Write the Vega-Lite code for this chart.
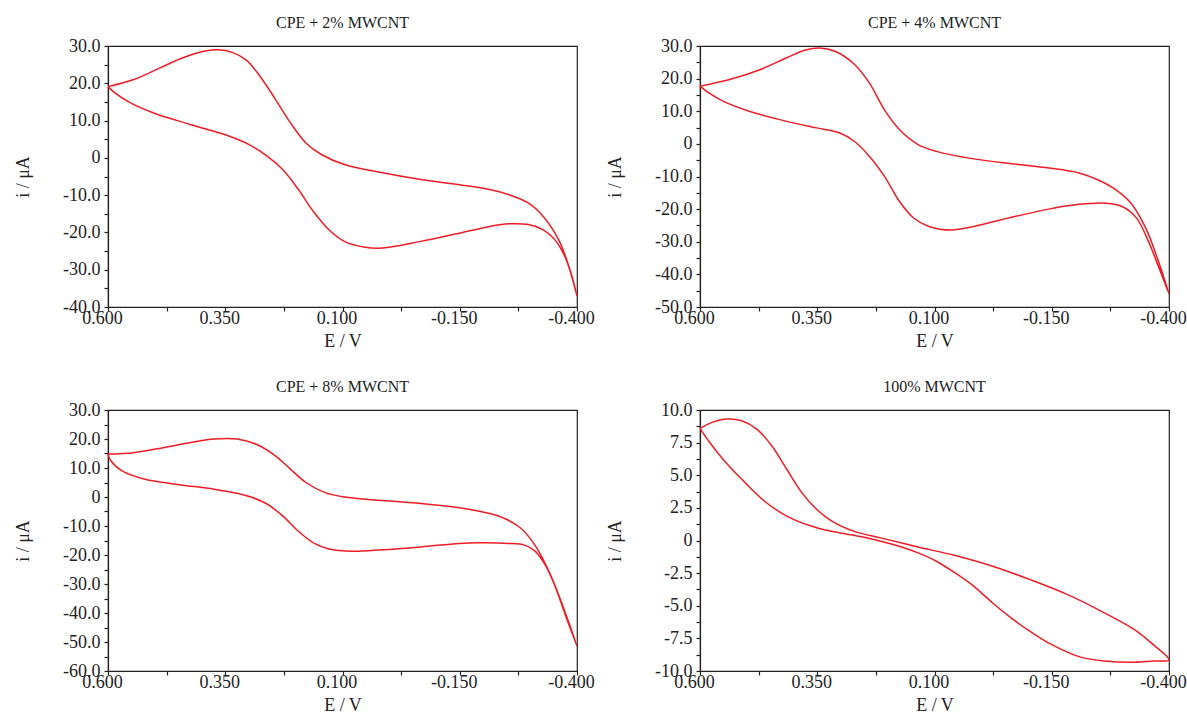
{
  "$schema": "https://vega.github.io/schema/vega-lite/v6.json",
  "background": "white",
  "padding": {"left": 13, "top": 14, "right": 0, "bottom": 0},
  "config": {
    "font": "Liberation Serif",
    "view": {"stroke": "#222", "strokeWidth": 1.2},
    "title": {"font": "Liberation Serif", "fontSize": 16, "fontWeight": "normal", "color": "#222", "offset": 6},
    "axis": {"grid": false, "domainColor": "#222", "tickColor": "#222", "labelColor": "#222", "titleColor": "#222", "labelFont": "Liberation Serif", "titleFont": "Liberation Serif", "labelFontSize": 18, "titleFontSize": 18, "titleFontWeight": "normal", "labelOverlap": false, "domainWidth": 1.2, "tickWidth": 1.2},
    "axisX": {"tickSize": 4, "labelPadding": -2, "labelOffset": -6, "titlePadding": 5, "labelFlush": false},
    "axisY": {"tickSize": 4, "labelPadding": 4, "titlePadding": 30}
  },
  "data": {"values": [
    {"p":1,"k":0,"E":0.600,"i":19.1},{"p":1,"k":1,"E":0.545,"i":21.0},{"p":1,"k":2,"E":0.488,"i":24.2},{"p":1,"k":3,"E":0.439,"i":26.9},{"p":1,"k":4,"E":0.390,"i":28.7},{"p":1,"k":5,"E":0.365,"i":29.0},{"p":1,"k":6,"E":0.335,"i":28.3},{"p":1,"k":7,"E":0.305,"i":26.2},{"p":1,"k":8,"E":0.276,"i":21.9},{"p":1,"k":9,"E":0.243,"i":15.7},{"p":1,"k":10,"E":0.211,"i":9.4},{"p":1,"k":11,"E":0.178,"i":4.0},{"p":1,"k":12,"E":0.145,"i":0.9},{"p":1,"k":13,"E":0.096,"i":-1.8},{"p":1,"k":14,"E":0.015,"i":-4.0},{"p":1,"k":15,"E":-0.067,"i":-5.8},{"p":1,"k":16,"E":-0.149,"i":-7.2},{"p":1,"k":17,"E":-0.214,"i":-8.5},{"p":1,"k":18,"E":-0.255,"i":-9.9},{"p":1,"k":19,"E":-0.296,"i":-12.1},{"p":1,"k":20,"E":-0.328,"i":-15.7},{"p":1,"k":21,"E":-0.361,"i":-22.0},{"p":1,"k":22,"E":-0.385,"i":-30.0},{"p":1,"k":23,"E":-0.400,"i":-37.0},{"p":1,"k":24,"E":-0.377,"i":-27.3},{"p":1,"k":25,"E":-0.353,"i":-22.0},{"p":1,"k":26,"E":-0.328,"i":-19.3},{"p":1,"k":27,"E":-0.296,"i":-17.9},{"p":1,"k":28,"E":-0.255,"i":-17.7},{"p":1,"k":29,"E":-0.214,"i":-18.4},{"p":1,"k":30,"E":-0.149,"i":-20.2},{"p":1,"k":31,"E":-0.067,"i":-22.4},{"p":1,"k":32,"E":0.015,"i":-24.2},{"p":1,"k":33,"E":0.055,"i":-23.9},{"p":1,"k":34,"E":0.096,"i":-22.4},{"p":1,"k":35,"E":0.129,"i":-19.3},{"p":1,"k":36,"E":0.162,"i":-14.4},{"p":1,"k":37,"E":0.194,"i":-8.5},{"p":1,"k":38,"E":0.227,"i":-3.2},{"p":1,"k":39,"E":0.260,"i":0.4},{"p":1,"k":40,"E":0.300,"i":3.6},{"p":1,"k":41,"E":0.341,"i":5.8},{"p":1,"k":42,"E":0.423,"i":8.9},{"p":1,"k":43,"E":0.504,"i":12.1},{"p":1,"k":44,"E":0.553,"i":14.8},{"p":1,"k":45,"E":0.586,"i":17.5},{"p":1,"k":46,"E":0.600,"i":19.1},

    {"p":2,"k":0,"E":0.600,"i":17.7},{"p":2,"k":1,"E":0.535,"i":19.8},{"p":2,"k":2,"E":0.471,"i":22.8},{"p":2,"k":3,"E":0.415,"i":26.4},{"p":2,"k":4,"E":0.375,"i":28.8},{"p":2,"k":5,"E":0.345,"i":29.4},{"p":2,"k":6,"E":0.311,"i":28.3},{"p":2,"k":7,"E":0.271,"i":24.4},{"p":2,"k":8,"E":0.239,"i":18.7},{"p":2,"k":9,"E":0.207,"i":10.5},{"p":2,"k":10,"E":0.175,"i":4.4},{"p":2,"k":11,"E":0.135,"i":-0.2},{"p":2,"k":12,"E":0.096,"i":-2.3},{"p":2,"k":13,"E":0.016,"i":-4.6},{"p":2,"k":14,"E":-0.064,"i":-6.1},{"p":2,"k":15,"E":-0.144,"i":-7.4},{"p":2,"k":16,"E":-0.208,"i":-8.9},{"p":2,"k":17,"E":-0.248,"i":-11.0},{"p":2,"k":18,"E":-0.287,"i":-14.1},{"p":2,"k":19,"E":-0.319,"i":-18.2},{"p":2,"k":20,"E":-0.351,"i":-26.0},{"p":2,"k":21,"E":-0.375,"i":-35.0},{"p":2,"k":22,"E":-0.400,"i":-46.0},{"p":2,"k":23,"E":-0.380,"i":-38.5},{"p":2,"k":24,"E":-0.355,"i":-29.5},{"p":2,"k":25,"E":-0.330,"i":-22.6},{"p":2,"k":26,"E":-0.300,"i":-19.2},{"p":2,"k":27,"E":-0.265,"i":-18.2},{"p":2,"k":28,"E":-0.230,"i":-18.3},{"p":2,"k":29,"E":-0.184,"i":-19.0},{"p":2,"k":30,"E":-0.144,"i":-20.0},{"p":2,"k":31,"E":-0.064,"i":-22.5},{"p":2,"k":32,"E":0.016,"i":-25.3},{"p":2,"k":33,"E":0.064,"i":-26.4},{"p":2,"k":34,"E":0.112,"i":-25.3},{"p":2,"k":35,"E":0.144,"i":-22.8},{"p":2,"k":36,"E":0.175,"i":-17.6},{"p":2,"k":37,"E":0.207,"i":-9.9},{"p":2,"k":38,"E":0.239,"i":-3.8},{"p":2,"k":39,"E":0.271,"i":0.8},{"p":2,"k":40,"E":0.303,"i":3.4},{"p":2,"k":41,"E":0.351,"i":4.9},{"p":2,"k":42,"E":0.415,"i":6.9},{"p":2,"k":43,"E":0.495,"i":10.0},{"p":2,"k":44,"E":0.551,"i":13.1},{"p":2,"k":45,"E":0.582,"i":15.7},{"p":2,"k":46,"E":0.600,"i":17.7},

    {"p":3,"k":0,"E":0.600,"i":14.8},{"p":3,"k":1,"E":0.545,"i":15.3},{"p":3,"k":2,"E":0.480,"i":17.1},{"p":3,"k":3,"E":0.423,"i":18.8},{"p":3,"k":4,"E":0.374,"i":20.0},{"p":3,"k":5,"E":0.325,"i":20.0},{"p":3,"k":6,"E":0.284,"i":18.2},{"p":3,"k":7,"E":0.243,"i":14.2},{"p":3,"k":8,"E":0.211,"i":9.6},{"p":3,"k":9,"E":0.178,"i":5.0},{"p":3,"k":10,"E":0.137,"i":1.5},{"p":3,"k":11,"E":0.096,"i":0.0},{"p":3,"k":12,"E":0.015,"i":-1.2},{"p":3,"k":13,"E":-0.067,"i":-2.2},{"p":3,"k":14,"E":-0.149,"i":-3.7},{"p":3,"k":15,"E":-0.214,"i":-5.7},{"p":3,"k":16,"E":-0.247,"i":-7.5},{"p":3,"k":17,"E":-0.279,"i":-10.6},{"p":3,"k":18,"E":-0.312,"i":-17.0},{"p":3,"k":19,"E":-0.344,"i":-27.0},{"p":3,"k":20,"E":-0.377,"i":-40.8},{"p":3,"k":21,"E":-0.400,"i":-51.5},{"p":3,"k":22,"E":-0.377,"i":-41.5},{"p":3,"k":23,"E":-0.350,"i":-29.5},{"p":3,"k":24,"E":-0.330,"i":-22.8},{"p":3,"k":25,"E":-0.310,"i":-18.6},{"p":3,"k":26,"E":-0.288,"i":-16.6},{"p":3,"k":27,"E":-0.255,"i":-16.0},{"p":3,"k":28,"E":-0.189,"i":-15.8},{"p":3,"k":29,"E":-0.149,"i":-16.0},{"p":3,"k":30,"E":-0.067,"i":-17.2},{"p":3,"k":31,"E":0.015,"i":-18.2},{"p":3,"k":32,"E":0.080,"i":-18.7},{"p":3,"k":33,"E":0.129,"i":-17.9},{"p":3,"k":34,"E":0.162,"i":-15.8},{"p":3,"k":35,"E":0.194,"i":-11.8},{"p":3,"k":36,"E":0.227,"i":-6.6},{"p":3,"k":37,"E":0.260,"i":-2.5},{"p":3,"k":38,"E":0.292,"i":-0.2},{"p":3,"k":39,"E":0.325,"i":1.3},{"p":3,"k":40,"E":0.374,"i":2.7},{"p":3,"k":41,"E":0.456,"i":4.4},{"p":3,"k":42,"E":0.521,"i":6.1},{"p":3,"k":43,"E":0.570,"i":9.0},{"p":3,"k":44,"E":0.594,"i":12.5},{"p":3,"k":45,"E":0.600,"i":14.8},

    {"p":4,"k":0,"E":0.600,"i":8.59},{"p":4,"k":1,"E":0.574,"i":9.05},{"p":4,"k":2,"E":0.543,"i":9.31},{"p":4,"k":3,"E":0.511,"i":9.18},{"p":4,"k":4,"E":0.479,"i":8.54},{"p":4,"k":5,"E":0.447,"i":7.26},{"p":4,"k":6,"E":0.415,"i":5.46},{"p":4,"k":7,"E":0.383,"i":3.67},{"p":4,"k":8,"E":0.351,"i":2.38},{"p":4,"k":9,"E":0.319,"i":1.49},{"p":4,"k":10,"E":0.271,"i":0.70},{"p":4,"k":11,"E":0.215,"i":0.20},{"p":4,"k":12,"E":0.135,"i":-0.50},{"p":4,"k":13,"E":0.056,"i":-1.15},{"p":4,"k":14,"E":-0.024,"i":-1.97},{"p":4,"k":15,"E":-0.104,"i":-3.0},{"p":4,"k":16,"E":-0.184,"i":-4.15},{"p":4,"k":17,"E":-0.263,"i":-5.56},{"p":4,"k":18,"E":-0.327,"i":-6.85},{"p":4,"k":19,"E":-0.367,"i":-8.0},{"p":4,"k":20,"E":-0.400,"i":-9.15},{"p":4,"k":21,"E":-0.367,"i":-9.23},{"p":4,"k":22,"E":-0.319,"i":-9.33},{"p":4,"k":23,"E":-0.263,"i":-9.23},{"p":4,"k":24,"E":-0.208,"i":-8.9},{"p":4,"k":25,"E":-0.144,"i":-7.87},{"p":4,"k":26,"E":-0.104,"i":-6.97},{"p":4,"k":27,"E":-0.064,"i":-5.95},{"p":4,"k":28,"E":-0.024,"i":-4.79},{"p":4,"k":29,"E":0.016,"i":-3.51},{"p":4,"k":30,"E":0.056,"i":-2.49},{"p":4,"k":31,"E":0.096,"i":-1.59},{"p":4,"k":32,"E":0.135,"i":-0.95},{"p":4,"k":33,"E":0.175,"i":-0.44},{"p":4,"k":34,"E":0.215,"i":-0.05},{"p":4,"k":35,"E":0.255,"i":0.28},{"p":4,"k":36,"E":0.303,"i":0.59},{"p":4,"k":37,"E":0.351,"i":0.97},{"p":4,"k":38,"E":0.415,"i":1.87},{"p":4,"k":39,"E":0.463,"i":3.03},{"p":4,"k":40,"E":0.511,"i":4.69},{"p":4,"k":41,"E":0.551,"i":6.23},{"p":4,"k":42,"E":0.582,"i":7.64},{"p":4,"k":43,"E":0.600,"i":8.59}
  ]},
  "columns": 2,
  "bounds": "flush",
  "spacing": {"row": 103, "column": 123},
  "resolve": {"scale": {"y": "independent"}},
  "concat": [
    {
      "title": "CPE + 2% MWCNT",
      "width": 469, "height": 261,
      "transform": [{"filter": "datum.p === 1"}],
      "mark": {"type": "line", "color": "#ee1d25", "strokeWidth": 1.5, "interpolate": "catmull-rom"},
      "encoding": {
        "x": {"field": "E", "type": "quantitative", "scale": {"domain": [0.6, -0.4], "nice": false},
          "axis": {"title": "E / V", "values": [0.6, 0.475, 0.35, 0.225, 0.1, -0.025, -0.15, -0.275, -0.4],
            "labelExpr": "round((0.6 - datum.value) * 1000) % 250 === 0 ? (datum.value < -0.0001 ? '-' + format(-datum.value, '.3f') : format(datum.value, '.3f')) : ''"}},
        "y": {"field": "i", "type": "quantitative", "scale": {"domain": [-40, 30], "nice": false},
          "axis": {"title": "i / μA", "values": [-40, -35, -30, -25, -20, -15, -10, -5, 0, 5, 10, 15, 20, 25, 30],
            "labelExpr": "datum.value === 0 ? '0' : (datum.value % 10 === 0 ? (datum.value < 0 ? '-' + format(-datum.value, '.1f') : format(datum.value, '.1f')) : '')"}},
        "order": {"field": "k", "type": "quantitative"}
      }
    },
    {
      "title": "CPE + 4% MWCNT",
      "width": 469, "height": 261,
      "transform": [{"filter": "datum.p === 2"}],
      "mark": {"type": "line", "color": "#ee1d25", "strokeWidth": 1.5, "interpolate": "catmull-rom"},
      "encoding": {
        "x": {"field": "E", "type": "quantitative", "scale": {"domain": [0.6, -0.4], "nice": false},
          "axis": {"title": "E / V", "values": [0.6, 0.475, 0.35, 0.225, 0.1, -0.025, -0.15, -0.275, -0.4],
            "labelExpr": "round((0.6 - datum.value) * 1000) % 250 === 0 ? (datum.value < -0.0001 ? '-' + format(-datum.value, '.3f') : format(datum.value, '.3f')) : ''"}},
        "y": {"field": "i", "type": "quantitative", "scale": {"domain": [-50, 30], "nice": false},
          "axis": {"title": "i / μA", "values": [-50, -45, -40, -35, -30, -25, -20, -15, -10, -5, 0, 5, 10, 15, 20, 25, 30],
            "labelExpr": "datum.value === 0 ? '0' : (datum.value % 10 === 0 ? (datum.value < 0 ? '-' + format(-datum.value, '.1f') : format(datum.value, '.1f')) : '')"}},
        "order": {"field": "k", "type": "quantitative"}
      }
    },
    {
      "title": "CPE + 8% MWCNT",
      "width": 469, "height": 261,
      "transform": [{"filter": "datum.p === 3"}],
      "mark": {"type": "line", "color": "#ee1d25", "strokeWidth": 1.5, "interpolate": "catmull-rom"},
      "encoding": {
        "x": {"field": "E", "type": "quantitative", "scale": {"domain": [0.6, -0.4], "nice": false},
          "axis": {"title": "E / V", "values": [0.6, 0.475, 0.35, 0.225, 0.1, -0.025, -0.15, -0.275, -0.4],
            "labelExpr": "round((0.6 - datum.value) * 1000) % 250 === 0 ? (datum.value < -0.0001 ? '-' + format(-datum.value, '.3f') : format(datum.value, '.3f')) : ''"}},
        "y": {"field": "i", "type": "quantitative", "scale": {"domain": [-60, 30], "nice": false},
          "axis": {"title": "i / μA", "values": [-60, -55, -50, -45, -40, -35, -30, -25, -20, -15, -10, -5, 0, 5, 10, 15, 20, 25, 30],
            "labelExpr": "datum.value === 0 ? '0' : (datum.value % 10 === 0 ? (datum.value < 0 ? '-' + format(-datum.value, '.1f') : format(datum.value, '.1f')) : '')"}},
        "order": {"field": "k", "type": "quantitative"}
      }
    },
    {
      "title": "100% MWCNT",
      "width": 469, "height": 261,
      "transform": [{"filter": "datum.p === 4"}],
      "mark": {"type": "line", "color": "#ee1d25", "strokeWidth": 1.5, "interpolate": "catmull-rom"},
      "encoding": {
        "x": {"field": "E", "type": "quantitative", "scale": {"domain": [0.6, -0.4], "nice": false},
          "axis": {"title": "E / V", "values": [0.6, 0.475, 0.35, 0.225, 0.1, -0.025, -0.15, -0.275, -0.4],
            "labelExpr": "round((0.6 - datum.value) * 1000) % 250 === 0 ? (datum.value < -0.0001 ? '-' + format(-datum.value, '.3f') : format(datum.value, '.3f')) : ''"}},
        "y": {"field": "i", "type": "quantitative", "scale": {"domain": [-10, 10], "nice": false},
          "axis": {"title": "i / μA", "values": [-10, -8.75, -7.5, -6.25, -5, -3.75, -2.5, -1.25, 0, 1.25, 2.5, 3.75, 5, 6.25, 7.5, 8.75, 10],
            "labelExpr": "datum.value === 0 ? '0' : (round(datum.value * 100) % 250 === 0 ? (datum.value < 0 ? '-' + format(-datum.value, '.1f') : format(datum.value, '.1f')) : '')"}},
        "order": {"field": "k", "type": "quantitative"}
      }
    }
  ]
}
